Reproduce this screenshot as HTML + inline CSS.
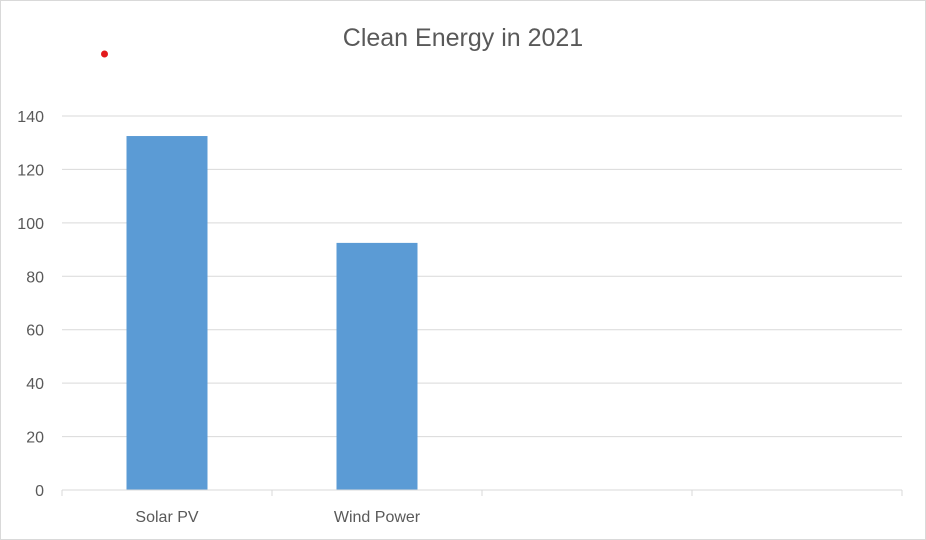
<!DOCTYPE html>
<html><head><meta charset="utf-8"><style>
html,body{margin:0;padding:0;background:#fff;}
svg{display:block;font-family:"Liberation Sans",sans-serif;}
</style></head><body>
<svg id="chart" width="926" height="540" viewBox="0 0 926 540" xmlns="http://www.w3.org/2000/svg">
<rect x="0.5" y="0.5" width="925" height="539" fill="#fff" stroke="#d9d9d9"/>
<text x="463" y="46" text-anchor="middle" font-size="25" fill="#595959">Clean Energy in 2021</text>
<circle cx="104.5" cy="54" r="3.5" fill="#e31a1c"/>
<g id="grid"></g><g id="bars"></g><g id="axis"></g>
</svg>
<script>
const categories=["Solar PV","Wind Power","",""];
const values=[132.5,92.5,null,null];
const yTicks=[0,20,40,60,80,100,120,140];
const NS="http://www.w3.org/2000/svg";
const x0=62,x1=902,y0=490,yTop=116,yMax=140;
const y=v=>y0-(v/yMax)*(y0-yTop);
const slot=(x1-x0)/categories.length;
const grid=document.getElementById('grid'),bars=document.getElementById('bars'),axis=document.getElementById('axis');
function mk(tag,attrs,parent){const e=document.createElementNS(NS,tag);for(const k in attrs)e.setAttribute(k,attrs[k]);parent.appendChild(e);return e;}
yTicks.forEach(t=>{
  if(t>0){const l=mk('line',{x1:x0,x2:x1,y1:y(t),y2:y(t),stroke:'#d9d9d9','stroke-width':1},grid);
  
  }
  const tx=mk('text',{x:44,y:y(t)+6,'text-anchor':'end','font-size':16,fill:'#595959'},axis);
  tx.textContent=t;
  
  
});
const ax=mk('line',{x1:x0,x2:x1,y1:y0,y2:y0,stroke:'#d9d9d9','stroke-width':1},axis);


for(let i=0;i<=categories.length;i++){
  const tk=mk('line',{x1:x0+i*slot,x2:x0+i*slot,y1:y0,y2:y0+6,stroke:'#d9d9d9'},axis);
  
  
}
const bw=81;
categories.forEach((c,i)=>{
  const cx=x0+(i+0.5)*slot;
  if(values[i]!=null){
    const r=mk('rect',{x:cx-bw/2,y:y(values[i]),width:bw,height:y0-y(values[i]),fill:'#5b9bd5'},bars);
    
    
  }
  if(c){const t=mk('text',{x:cx,y:522,'text-anchor':'middle','font-size':16,fill:'#595959'},axis);
  t.textContent=c;
  
  }
});
</script>
</body></html>
